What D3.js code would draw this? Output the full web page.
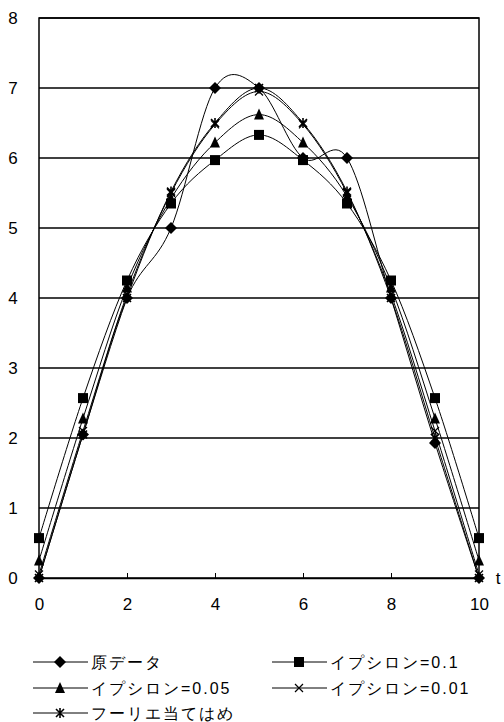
<!DOCTYPE html>
<html>
<head>
<meta charset="utf-8">
<script src="https://cdn.jsdelivr.net/npm/d3@7"></script>
<style>
  body { margin: 0; background: #fff; }
  text { font-family: "Liberation Sans", Arial, sans-serif; }
</style>
</head>
<body>
<div id="chart"></div>
<script>
// data
let tValues = [0, 1, 2, 3, 4, 5, 6, 7, 8, 9, 10];
let original = [0, 2.05, 4.0, 5.0, 7.0, 7.0, 6.0, 6.0, 4.0, 1.93, 0];
let eps01 = [0.57, 2.57, 4.25, 5.35, 5.97, 6.33, 5.97, 5.35, 4.25, 2.57, 0.57];
let eps005 = [0.25, 2.28, 4.15, 5.42, 6.22, 6.62, 6.22, 5.45, 4.15, 2.28, 0.25];
let eps001 = [0.05, 2.1, 4.05, 5.5, 6.48, 6.95, 6.48, 5.5, 4.05, 2.1, 0.05];
let fourier = [0, 2.05, 4.0, 5.52, 6.5, 7.0, 6.5, 5.52, 4.0, 2.0, 0];
let seriesNames = ["原データ", "イプシロン=0.1", "イプシロン=0.05", "イプシロン=0.01", "フーリエ当てはめ"];
let yTicks = [0, 1, 2, 3, 4, 5, 6, 7, 8];
let xTicks = [0, 2, 4, 6, 8, 10];

let series = [
  {name: seriesNames[0], values: original, marker: "diamond"},
  {name: seriesNames[1], values: eps01, marker: "square"},
  {name: seriesNames[2], values: eps005, marker: "triangle"},
  {name: seriesNames[3], values: eps001, marker: "cross"},
  {name: seriesNames[4], values: fourier, marker: "star"}
];

let width = 504;
let height = 722;

let xScale = d3.scaleLinear().domain([0, 10]).range([39, 479]);
let yScale = d3.scaleLinear().domain([0, 8]).range([578, 18]);

let svg = d3.select("#chart").append("svg")
  .attr("width", width).attr("height", height);

// gridlines
svg.append("g")
  .selectAll("line")
  .data(yTicks.slice(1))
  .enter()
  .append("line")
  .attr("x1", xScale(0)).attr("x2", xScale(10))
  .attr("y1", d => yScale(d)).attr("y2", d => yScale(d))
  .attr("stroke", "#000").attr("stroke-width", 1.5);

// plot frame
svg.append("rect")
  .attr("x", xScale(0)).attr("y", yScale(8))
  .attr("width", xScale(10) - xScale(0))
  .attr("height", yScale(0) - yScale(8))
  .attr("fill", "none").attr("stroke", "#000").attr("stroke-width", 1.5);

// x axis, ticks pointing up into the plot
let xAxis = d3.axisBottom(xScale).tickValues(xTicks).tickSizeInner(-5).tickSizeOuter(0).tickPadding(20);
let gx = svg.append("g")
  .attr("transform", `translate(0, ${yScale(0)})`)
  .call(xAxis);
gx.select(".domain").attr("stroke", "#000").attr("stroke-width", 1.5);
gx.selectAll("text").attr("font-size", 17).attr("fill", "#000");

// y axis labels
let yAxis = d3.axisLeft(yScale).tickValues(yTicks).tickSize(0).tickPadding(20);
let gy = svg.append("g")
  .attr("transform", `translate(${xScale(0)}, 0)`)
  .call(yAxis);
gy.select(".domain").remove();
gy.selectAll("text").attr("font-size", 17).attr("fill", "#000")
  .attr("text-anchor", "middle").attr("dx", -6);

svg.append("text")
  .attr("x", 498).attr("y", yScale(0) + 6)
  .attr("text-anchor", "middle")
  .attr("font-size", 17)
  .text("t");

// smooth lines like the spreadsheet
let line = d3.line()
  .x((d, i) => xScale(tValues[i]))
  .y(d => yScale(d))
  .curve(d3.curveCatmullRom.alpha(0));

function drawMarker(g, type, x, y) {
  if (type === "diamond") {
    g.append("path").attr("d", `M${x},${y-6}L${x+6},${y}L${x},${y+6}L${x-6},${y}Z`).attr("fill", "#000");
  } else if (type === "square") {
    g.append("rect").attr("x", x - 5).attr("y", y - 5).attr("width", 10).attr("height", 10).attr("fill", "#000");
  } else if (type === "triangle") {
    g.append("path").attr("d", `M${x},${y-6}L${x+5},${y+5}L${x-5},${y+5}Z`).attr("fill", "#000");
  } else if (type === "cross") {
    g.append("path").attr("d", `M${x-4},${y-4}L${x+4},${y+4}M${x+4},${y-4}L${x-4},${y+4}`)
      .attr("stroke", "#000").attr("stroke-width", 1.2);
  } else if (type === "star") {
    g.append("path").attr("d", `M${x-4},${y-4}L${x+4},${y+4}M${x+4},${y-4}L${x-4},${y+4}M${x},${y-5}L${x},${y+5}`)
      .attr("stroke", "#000").attr("stroke-width", 1.6);
  }
}

series.forEach(s => {
  svg.append("path")
    .datum(s.values)
    .attr("d", line)
    .attr("fill", "none")
    .attr("stroke", "#000")
    .attr("stroke-width", 1);
});

series.forEach(s => {
  let g = svg.append("g");
  s.values.forEach((v, i) => drawMarker(g, s.marker, xScale(tValues[i]), yScale(v)));
});

// legend
let legendPos = [[33, 662], [272, 662], [33, 688], [272, 688], [33, 713]];
series.forEach((s, i) => {
  let [lx, ly] = legendPos[i];
  let g = svg.append("g");
  g.append("line").attr("x1", lx).attr("x2", lx + 55).attr("y1", ly).attr("y2", ly)
    .attr("stroke", "#000").attr("stroke-width", 1);
  drawMarker(g, s.marker, lx + 27, ly);
  g.append("text")
    .attr("x", lx + 58).attr("y", ly + 6)
    .attr("font-size", 16)
    .attr("letter-spacing", 2)
    .attr("font-family", "'Noto Sans CJK JP', sans-serif")
    .text(s.name);
});
</script>
</body>
</html>
